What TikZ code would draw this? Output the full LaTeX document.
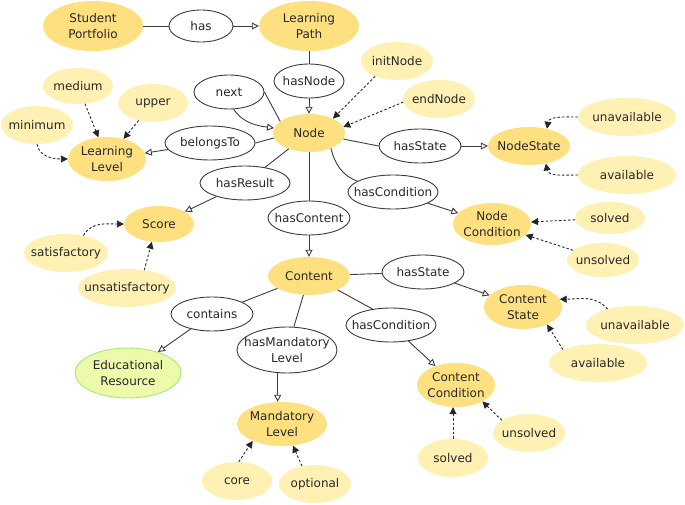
\documentclass[tikz,border=0pt]{standalone}
\usepackage{fontspec}
\setmainfont{DejaVu Sans}
\usetikzlibrary{shapes.geometric,arrows.meta}
\definecolor{clsfill}{RGB}{254,224,128}
\definecolor{indfill}{RGB}{255,240,180}
\definecolor{erfill}{RGB}{236,250,170}
\definecolor{erdraw}{RGB}{160,238,120}
\definecolor{txt}{RGB}{40,40,40}
\definecolor{edgec}{RGB}{60,60,60}
\begin{document}
\begin{tikzpicture}[x=1pt,y=1pt,
 base/.style={ellipse,inner xsep=-25pt,inner ysep=-10pt,align=center,text=txt,font=\fontsize{12}{15.5}\selectfont},
 cls/.style={base,fill=clsfill},
 ind/.style={base,fill=indfill},
 prop/.style={base,fill=white,draw=edgec,line width=0.9pt},
 er/.style={base,fill=erfill,draw=erdraw,line width=0.9pt},
 rel/.style={draw=edgec,line width=0.9pt},
 relarr/.style={rel,-{Triangle[open,length=7pt,width=7pt]}},
 inst/.style={draw=black!85,line width=0.9pt,dash pattern=on 2.5pt off 2pt,-{Triangle[length=7pt,width=7pt]}},
 sz/.style 2 args={minimum width=#1pt,minimum height=#2pt}
]
\useasboundingbox (0,0) rectangle (685,-505);

\node[cls,sz={100}{50}] (sp) at (93,-26) {Student\\Portfolio};
\node[prop,sz={64}{32}] (has) at (201,-26) {has};
\node[cls,sz={100}{50}] (lp) at (309,-26) {Learning\\Path};
\node[prop,sz={70}{34}] (hasnode) at (309,-81) {hasNode};
\node[cls,sz={72}{38}] (node) at (309,-133) {Node};
\node[prop,sz={70}{34}] (next) at (229,-92) {next};
\node[ind,sz={72}{38}] (init) at (397,-61) {initNode};
\node[ind,sz={72}{38}] (endn) at (439,-99) {endNode};
\node[ind,sz={70}{36}] (medium) at (78,-86) {medium};
\node[ind,sz={70}{38}] (upper) at (153,-103) {upper};
\node[ind,sz={72}{38}] (minimum) at (37,-125) {minimum};
\node[cls,sz={78}{44}] (ll) at (107,-159) {Learning\\Level};
\node[prop,sz={90}{34}] (belongs) at (210,-143) {belongsTo};
\node[prop,sz={82}{34}] (hsn) at (420,-146) {hasState};
\node[cls,sz={82}{38}] (ns) at (529,-146) {NodeState};
\node[ind,sz={98}{38}] (unav1) at (627,-117) {unavailable};
\node[ind,sz={98}{38}] (avail1) at (627,-175) {available};
\node[prop,sz={90}{34}] (hasres) at (245,-183) {hasResult};
\node[prop,sz={90}{34}] (hcn) at (393,-192) {hasCondition};
\node[cls,sz={70}{36}] (score) at (159,-224) {Score};
\node[prop,sz={82}{34}] (hascont) at (309,-218) {hasContent};
\node[cls,sz={78}{42}] (nc) at (492,-224) {Node\\Condition};
\node[ind,sz={70}{32}] (solved1) at (610,-218) {solved};
\node[ind,sz={72}{34}] (unsolved1) at (603,-260) {unsolved};
\node[ind,sz={84}{38}] (sat) at (66,-253) {satisfactory};
\node[ind,sz={98}{38}] (unsat) at (127,-288) {unsatisfactory};
\node[cls,sz={82}{38}] (content) at (309,-276) {Content};
\node[prop,sz={82}{34}] (hsc) at (423,-272) {hasState};
\node[cls,sz={78}{44}] (cs) at (523,-307) {Content\\State};
\node[ind,sz={98}{38}] (unav2) at (635,-325) {unavailable};
\node[ind,sz={98}{38}] (avail2) at (598,-363) {available};
\node[prop,sz={82}{34}] (contains) at (212,-314) {contains};
\node[prop,sz={90}{34}] (hcc) at (391,-325) {hasCondition};
\node[prop,sz={100}{46}] (hml) at (287,-350) {hasMandatory\\Level};
\node[er,sz={106}{50}] (er) at (128,-373) {Educational\\Resource};
\node[cls,sz={78}{44}] (cc) at (456,-385) {Content\\Condition};
\node[ind,sz={72}{38}] (unsolved2) at (529,-433) {unsolved};
\node[ind,sz={70}{38}] (solved2) at (453,-458) {solved};
\node[cls,sz={90}{44}] (ml) at (282,-424) {Mandatory\\Level};
\node[ind,sz={70}{38}] (core) at (237,-481) {core};
\node[ind,sz={72}{38}] (optional) at (315,-484) {optional};

% object properties
\draw[rel] (sp) -- (has);
\draw[relarr] (has) -- (lp);
\draw[rel] (lp) -- (hasnode);
\draw[relarr] (hasnode) -- (node);
\draw[rel] (node.158) -- (next.east);
\draw[relarr] (next.-75) to[out=-55,in=172] (node.172);
\draw[rel] (node.188) -- (belongs.east);
\draw[relarr] (belongs) -- (ll);
\draw[rel] (node.-10) -- (hsn.west);
\draw[relarr] (hsn) -- (ns);
\draw[rel] (node) -- (hasres);
\draw[relarr] (hasres) -- (score);
\draw[rel] (node.-35) to[out=-75,in=160] (hcn.163);
\draw[relarr] (hcn) -- (nc);
\draw[rel] (node) -- (hascont);
\draw[relarr] (hascont) -- (content);
\draw[rel] (content) -- (hsc);
\draw[relarr] (hsc) -- (cs);
\draw[rel] (content) -- (contains);
\draw[relarr] (contains) -- (er);
\draw[rel] (content) -- (hml);
\draw[relarr] (hml.-112) -- (hml.-112 |- ml.north);
\draw[rel] (content.-26) -- (hcc.139);
\draw[relarr] (hcc) -- (cc);

% individuals
\draw[inst] (init.-145) -- (node.31);
\draw[inst] (endn.-175) -- (node.10);
\draw[inst] (unav1.west) to[out=180,in=80] (ns.44);
\draw[inst] (avail1.west) to[out=180,in=-80] (ns.-46);
\draw[inst] (medium) -- (ll);
\draw[inst] (upper) -- (ll);
\draw[inst] (minimum.south) to[out=-80,in=180] (ll.west);
\draw[inst] (sat.45) to[out=60,in=180] (score.west);
\draw[inst] (unsat.46) -- (score.-112);
\draw[inst] (solved1) -- (nc);
\draw[inst] (unsolved1) -- (nc);
\draw[inst] (unav2.150) to[out=130,in=0] (cs.12);
\draw[inst] (avail2.159) -- (cs.-36);
\draw[inst] (unsolved2.155) -- (cc.-32);
\draw[inst] (solved2.north) -- (solved2.north |- cc.south);
\draw[inst] (core.85) -- (ml.-150);
\draw[inst] (optional.126) -- (ml.-63);
\end{tikzpicture}
\end{document}
